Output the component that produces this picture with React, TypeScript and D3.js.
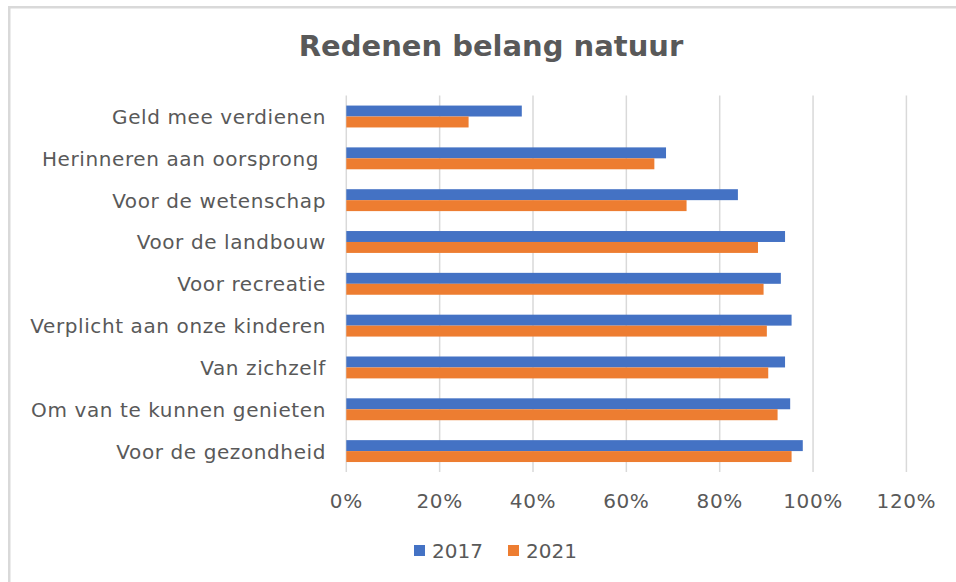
import React from 'react';
import { scaleBand, scaleLinear } from 'd3';

const categories = [
  'Geld mee verdienen',
  'Herinneren aan oorsprong ',
  'Voor de wetenschap',
  'Voor de landbouw',
  'Voor recreatie',
  'Verplicht aan onze kinderen',
  'Van zichzelf',
  'Om van te kunnen genieten',
  'Voor de gezondheid',
];
const values2017 = [37.6, 68.5, 83.9, 94.0, 93.1, 95.4, 94.0, 95.1, 97.8];
const values2021 = [26.2, 66.0, 72.9, 88.2, 89.4, 90.1, 90.4, 92.4, 95.4];
const seriesNames = ['2017', '2021'];
const seriesColors = ['#4472C4', '#ED7D31'];
const ticks = [0, 20, 40, 60, 80, 100, 120];

const W = 956;
const H = 582;
const textColor = '#595959';
const font = '"DejaVu Sans", Verdana, sans-serif';

export default function App() {
  const x = scaleLinear().domain([0, 120]).range([346.3, 906.4]);
  const y = scaleBand().domain(categories).range([95.6, 472]);
  // excel style: gap width 182% of one bar
  const barH = y.bandwidth() / (2 + 1.82);
  const inner = scaleBand().domain(seriesNames).range([0, 2 * barH]);
  const offset = (y.bandwidth() - 2 * barH) / 2;
  const series = [values2017, values2021];

  return (
    <svg width={W} height={H} style={{ position: 'absolute', left: 0, top: 0, background: '#fff' }}>
      <rect x={9.25} y={7.25} width={1000} height={1000} fill="#fff" stroke="#d9d9d9" strokeWidth={2.5} />
      <text x={491} y={56} textAnchor="middle" fontFamily={font} fontWeight="bold" fontSize={29} fill={textColor}>
        Redenen belang natuur
      </text>

      {/* gridlines */}
      {ticks.map(t => (
        <line key={t} x1={x(t)} x2={x(t)} y1={95.6} y2={472} stroke="#d9d9d9" strokeWidth={1.5} />
      ))}

      {/* bars */}
      {categories.map((c, i) =>
        series.map((vals, s) => (
          <rect
            key={c + s}
            x={x(0)}
            y={(y(c) as number) + offset + (inner(seriesNames[s]) as number)}
            width={x(vals[i]) - x(0)}
            height={inner.bandwidth()}
            fill={seriesColors[s]}
          />
        )),
      )}

      {/* category labels */}
      {categories.map(c => (
        <text
          key={c}
          x={326}
          y={(y(c) as number) + y.bandwidth() / 2 + 7.5}
          textAnchor="end"
          fontFamily={font}
          fontSize={20}
          letterSpacing={0.6}
          fill={textColor}
          style={{ whiteSpace: 'pre' }}
        >
          {c}
        </text>
      ))}

      {/* x tick labels */}
      {ticks.map(t => (
        <text
          key={t}
          x={x(t)}
          y={508}
          textAnchor="middle"
          fontFamily={font}
          fontSize={20}
          letterSpacing={0.6}
          fill={textColor}
        >
          {t + '%'}
        </text>
      ))}

      {/* legend */}
      {seriesNames.map((n, s) => (
        <g key={n} transform={`translate(${414 + s * 94},0)`}>
          <rect x={0} y={545} width={11} height={11} fill={seriesColors[s]} />
          <text x={18} y={557.5} fontFamily={font} fontSize={20} fill={textColor}>
            {n}
          </text>
        </g>
      ))}
    </svg>
  );
}
